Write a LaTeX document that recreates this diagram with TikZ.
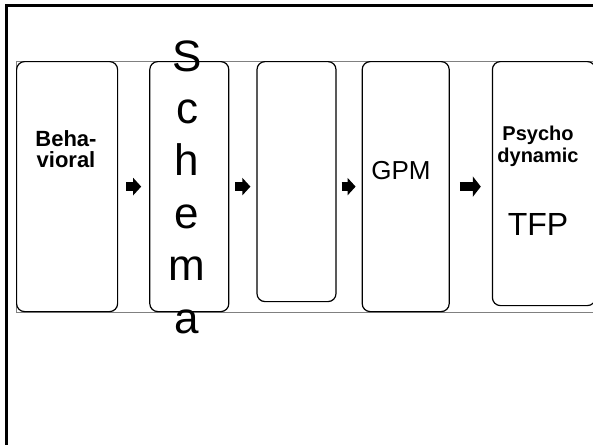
\documentclass[tikz,border=0pt]{standalone}
\usepackage{fontspec}
\setmainfont{Liberation Sans}
\usetikzlibrary{positioning,arrows.meta,fit,backgrounds}

\begin{document}
\begin{tikzpicture}[x=1pt,y=-1pt,
  stage/.style={draw,rounded corners=8pt,line width=1.2pt,inner sep=0pt,anchor=north west},
  flow/.style={line width=9pt,-{Triangle[length=8pt,width=17pt]}},
  lbl/.style={align=center,inner sep=0pt}]
  \useasboundingbox (0,0) rectangle (593,444);
  \draw[line width=3pt] (6.5,450) |- (600,5.5);

  % the five stages
  \node[stage,minimum width=101pt,minimum height=250pt] (b1) at (16,61) {};
  \node[stage,minimum width=79pt,minimum height=250pt,right=31pt of b1.north east,anchor=north west] (b2) {};
  \node[stage,minimum width=79pt,minimum height=240pt,right=27pt of b2.north east,anchor=north west] (b3) {};
  \node[stage,minimum width=87pt,minimum height=250pt,right=25pt of b3.north east,anchor=north west] (b4) {};
  \node[stage,minimum width=103pt,minimum height=244pt,right=42pt of b4.north east,anchor=north west] (b5) {};

  \begin{scope}[on background layer]
    \node[draw=gray,line width=0.8pt,inner sep=0pt,fit=(b1)(b2)(b4)(b5)] (band) {};
  \end{scope}

  % texts
  \node[lbl,font=\fontsize{22}{21}\selectfont\bfseries] (behav) at (66,149.5) {Beha-\\vioral};
  \node[lbl,font=\fontsize{44}{52.4}\selectfont] (schema) at (187,187) {S\\c\\h\\e\\m\\a};
  \node[lbl,font=\fontsize{26}{30}\selectfont] (gpm) at (401,170.7) {GPM};
  \node[lbl,font=\fontsize{20}{22}\selectfont\bfseries] (psy) at (538,146) {Psycho\\dynamic};
  \node[lbl,font=\fontsize{32}{36}\selectfont] (tfp) at (538,224) {TFP};

  % arrows between stages
  \draw[flow,shorten <=8pt,shorten >=8pt] (b1.east) -- (b1.east -| b2.west);
  \draw[flow,shorten <=6pt,shorten >=6pt] (b2.east) -- (b2.east -| b3.west);
  \draw[flow,shorten <=5pt,shorten >=6pt] (b3.east |- b4.west) -- (b4.west);
  \draw[flow,-{Triangle[length=8pt,width=20pt]},shorten <=10pt,shorten >=11pt] (b4.east) -- (b4.east -| b5.west);
\end{tikzpicture}
\end{document}
